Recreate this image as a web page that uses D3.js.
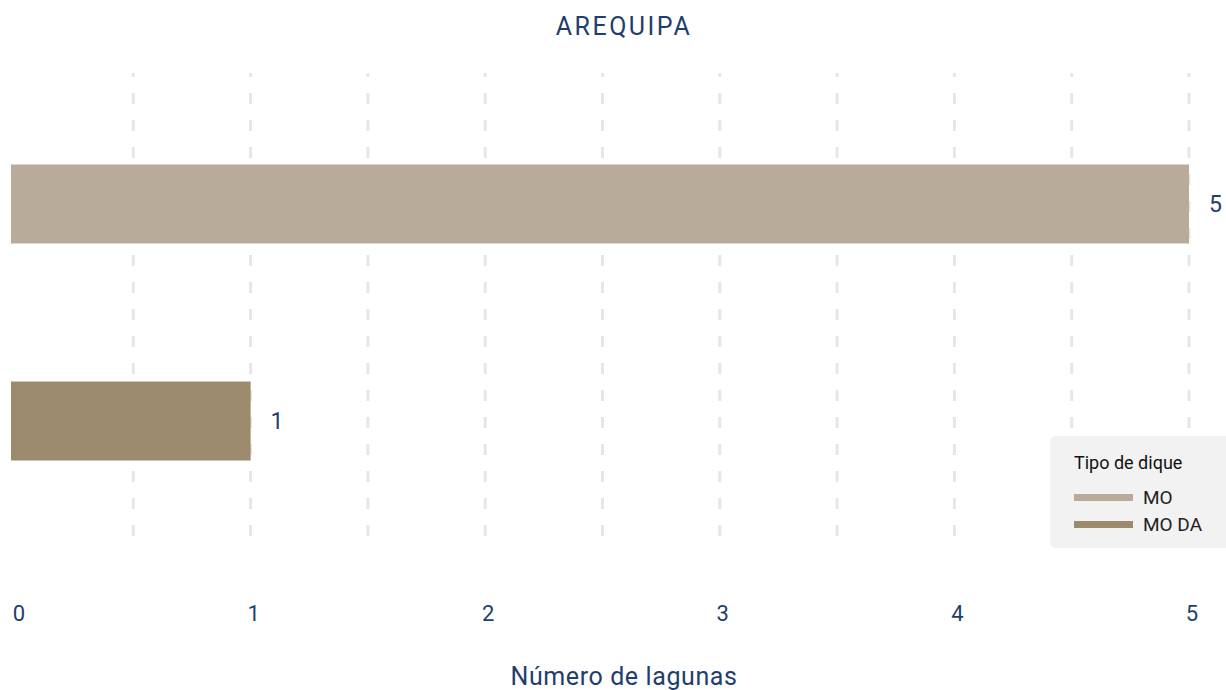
<!DOCTYPE html>
<html>
<head>
<meta charset="utf-8">
<script src="https://cdn.jsdelivr.net/npm/d3@7"></script>
<style>
    body { margin: 0; background: #fff; }
    text { font-family: Roboto, "DejaVu Sans", sans-serif; }
</style>
</head>
<body>
<script>
var categories = ["MO", "MO DA"];
var values = [5, 1];
var barColors = ["#b8ab99", "#9c8a6c"];
var tickValues = [0, 1, 2, 3, 4, 5];
var gridValues = [0.5, 1, 1.5, 2, 2.5, 3, 3.5, 4, 4.5, 5];

var width = 1226, height = 690;
var navy = "#1f3e6d";

var svg = d3.select("body")
    .append("svg")
    .attr("width", width)
    .attr("height", height);

var x = d3.scaleLinear()
    .domain([0, 5])
    .range([16, 1189]);

var y = d3.scaleBand()
    .domain(categories)
    .range([73, 552])
    .paddingInner(0.636)
    .paddingOuter(0.4215);

//dashed vertical gridlines
svg.selectAll(".grid")
    .data(gridValues)
    .enter()
    .append("line")
    .attr("x1", function(d){ return x(d); })
    .attr("x2", function(d){ return x(d); })
    .attr("y1", 73)
    .attr("y2", 552)
    .attr("stroke", "#e6e6e6")
    .attr("stroke-width", 3)
    .attr("stroke-dasharray", "11,16")
    .attr("stroke-dashoffset", 7);

//bars (start a little left of the zero line, as in the original)
svg.selectAll(".bar")
    .data(categories)
    .enter()
    .append("rect")
    .attr("x", x(0) - 5)
    .attr("y", function(d){ return y(d); })
    .attr("width", function(d, i){ return x(values[i]) - x(0) + 5; })
    .attr("height", y.bandwidth())
    .attr("fill", function(d, i){ return barColors[i]; });

//value labels
svg.selectAll(".val")
    .data(categories)
    .enter()
    .append("text")
    .attr("x", function(d, i){ return x(values[i]) + 20; })
    .attr("y", function(d){ return y(d) + y.bandwidth() / 2 + 8; })
    .attr("fill", navy)
    .attr("font-size", 23)
    .text(function(d, i){ return values[i]; });

//x tick labels
svg.selectAll(".tick")
    .data(tickValues)
    .enter()
    .append("text")
    .attr("x", function(d){ return x(d) + 3; })
    .attr("y", 621)
    .attr("text-anchor", "middle")
    .attr("fill", navy)
    .attr("font-size", 22)
    .text(function(d){ return d; });

//title
svg.append("text")
    .attr("x", 624)
    .attr("y", 35)
    .attr("text-anchor", "middle")
    .attr("fill", navy)
    .attr("font-size", 25)
    .attr("letter-spacing", 2.5)
    .text("AREQUIPA");

//axis title
svg.append("text")
    .attr("x", 624)
    .attr("y", 685)
    .attr("text-anchor", "middle")
    .attr("fill", navy)
    .attr("font-size", 25)
    .attr("letter-spacing", 0.6)
    .text("Número de lagunas");

//legend
var legend = svg.append("g")
    .attr("transform", "translate(1050,436)");

legend.append("rect")
    .attr("width", 186)
    .attr("height", 112)
    .attr("rx", 6)
    .attr("fill", "#f1f2f1");

legend.append("text")
    .attr("x", 24)
    .attr("y", 33)
    .attr("fill", "#111")
    .attr("font-size", 18)
    .text("Tipo de dique");

categories.forEach(function(c, i){
    legend.append("rect")
        .attr("x", 24)
        .attr("y", 58 + i * 27)
        .attr("width", 59)
        .attr("height", 7)
        .attr("fill", barColors[i]);
    legend.append("text")
        .attr("x", 93)
        .attr("y", 68 + i * 27)
        .attr("fill", "#222")
        .attr("font-size", 19)
        .text(c);
});
</script>
</body>
</html>
